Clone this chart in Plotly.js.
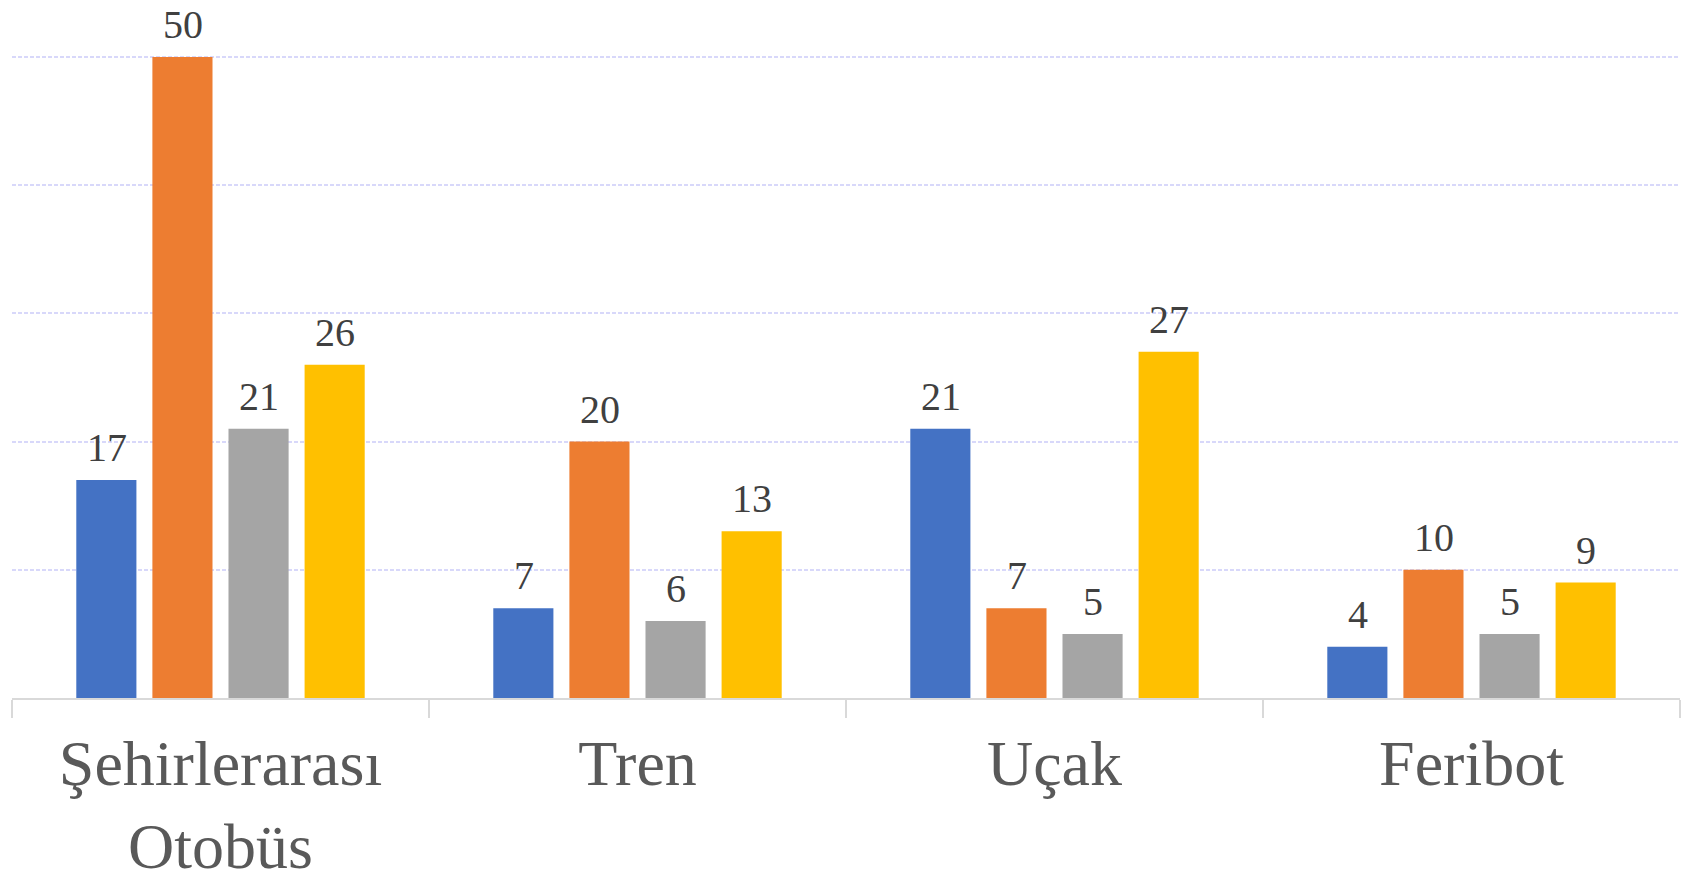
<!DOCTYPE html>
<html>
<head>
<meta charset="utf-8">
<script src="https://cdn.plot.ly/plotly-3.0.1.min.js"></script>
<style>html,body{margin:0;padding:0;background:#fff;}#chart{width:1685px;height:873px;}</style>
</head>
<body>
<div id="chart"></div>
<script>
const categories = ["Şehirlerarası<br>Otobüs", "Tren", "Uçak", "Feribot"];
const seriesNames = ["Seri 1", "Seri 2", "Seri 3", "Seri 4"];
const series1 = [17, 7, 21, 4];
const series2 = [50, 20, 7, 10];
const series3 = [21, 6, 5, 5];
const series4 = [26, 13, 27, 9];
const colors = ["#4472C4", "#ED7D31", "#A5A5A5", "#FFC000"];

const allSeries = [series1, series2, series3, series4];
const traces = allSeries.map((vals, i) => ({
  type: "bar",
  name: seriesNames[i],
  x: categories,
  y: vals,
  marker: {color: colors[i]},
  hoverinfo: "y"
}));

const slotPx = 76;
const annotations = [];
allSeries.forEach((vals, i) => {
  vals.forEach((v, j) => {
    annotations.push({
      x: categories[j], y: v, xref: "x", yref: "y",
      text: String(v), showarrow: false,
      xanchor: "center", yanchor: "bottom",
      xshift: (i - 1.5) * slotPx, yshift: 8,
      font: {family: "Times New Roman", size: 40, color: "#404040"}
    });
  });
});

const layout = {
  width: 1685, height: 873,
  font: {family: "Liberation Serif", color: "#595959"},
  margin: {l: 12, r: 5, t: 56, b: 175},
  paper_bgcolor: "#fff", plot_bgcolor: "#fff",
  showlegend: false,
  barmode: "group",
  bargap: 0.27,
  bargroupgap: 0.21,
  xaxis: {
    type: "category",
    showline: true, linecolor: "#d9d9d9", linewidth: 2,
    ticks: "outside", tickson: "boundaries", ticklen: 18, tickcolor: "#d9d9d9", tickwidth: 2,
    showgrid: false,
    tickfont: {family: "Times New Roman", size: 64, color: "#595959"},
    ticklabelstandoff: 8
  },
  yaxis: {
    range: [0, 50.08],
    dtick: 10,
    showticklabels: false,
    showgrid: true, gridcolor: "#d8d8fa", gridwidth: 2, griddash: "4px,2px",
    zeroline: false, showline: false
  },
  annotations: annotations
};

Plotly.newPlot("chart", traces, layout, {displayModeBar: false, staticPlot: true});
</script>
</body>
</html>
